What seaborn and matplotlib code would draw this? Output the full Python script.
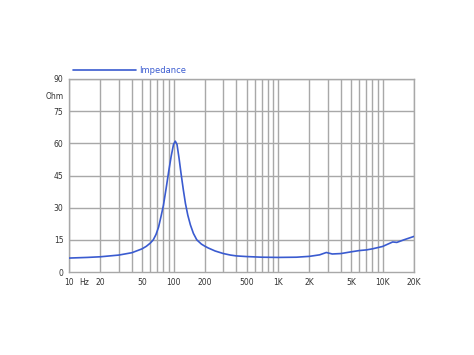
import matplotlib
matplotlib.use("Agg")
import matplotlib.pyplot as plt
import seaborn as sns
import numpy as np
import pandas as pd

freq = [10, 15, 20, 30, 40, 50, 55, 60, 64, 68, 72, 76, 80, 85, 90, 95, 100, 104,
        108, 113, 118, 124, 130, 137, 145, 155, 167, 185, 200, 215, 250, 300, 350,
        400, 500, 700, 1000, 1500, 2000, 2500, 2900, 3300, 4000, 5000, 6000, 7000,
        8000, 10000, 12500, 13700, 16000, 20000]
impedance = [6.5, 6.8, 7.1, 7.9, 9.0, 10.8, 12.0, 13.5, 15.0, 17.5, 21.0, 26.0, 31.0,
             39.0, 47.0, 54.0, 59.5, 61.0, 59.5, 53.0, 46.0, 38.5, 32.0, 26.5, 22.0,
             18.0, 15.0, 13.0, 12.0, 11.2, 9.8, 8.6, 7.9, 7.5, 7.2, 6.9, 6.8, 6.9,
             7.3, 8.0, 9.1, 8.4, 8.6, 9.4, 10.0, 10.3, 10.8, 11.9, 14.0, 13.8, 15.0,
             16.6]

xticks = [10, 14, 20, 50, 100, 200, 500, 1000, 2000, 5000, 10000, 20000]
xticklabels = ["10", "Hz", "20", "50", "100", "200", "500", "1K", "2K", "5K", "10K", "20K"]
yticks = [0, 15, 30, 45, 60, 75, 82.5, 90]
yticklabels = ["0", "15", "30", "45", "60", "75", "Ohm", "90"]

df = pd.DataFrame({"Frequency": freq, "Impedance": impedance})

sns.set_style("white")
plt.rcParams['font.family'] = ['DejaVu Sans']

fig = plt.figure(figsize=(4.74, 3.55), dpi=100)
ax = fig.add_axes([69/474, 1-272/355, (414-69)/474, (272-79)/355])

grid_color = "#a8a8a8"
sns.lineplot(data=df, x="Frequency", y="Impedance", ax=ax, color="#3a5bd0",
             linewidth=1.2, label="Impedance", zorder=3)
ax.set_xscale("log")
ax.set_xlim(10, 20000)
ax.set_ylim(0, 90)

# grid lines
minor = []
for dec in [10, 100, 1000, 10000]:
    for m in range(1, 10):
        v = dec * m
        if 10 <= v <= 20000:
            minor.append(v)
for v in minor:
    ax.axvline(v, color=grid_color, linewidth=1.0, zorder=1)
for v in [15, 30, 45, 60, 75, 90]:
    ax.axhline(v, color=grid_color, linewidth=1.0, zorder=1)

ax.set_xticks(xticks)
ax.set_xticklabels(xticklabels)
ax.xaxis.set_minor_locator(matplotlib.ticker.NullLocator())
ax.set_yticks(yticks)
ax.set_yticklabels(yticklabels)
ax.tick_params(axis="both", labelsize=5.5, colors="#333333", length=0, pad=4)
ax.set_xlabel("")
ax.set_ylabel("")
for s in ax.spines.values():
    s.set_color(grid_color)
    s.set_linewidth(1.0)

leg = ax.legend(loc="lower left", bbox_to_anchor=(4/345, 1.02), frameon=False,
                fontsize=6, handlelength=7.6, handletextpad=0.3, borderaxespad=0,
                borderpad=0)
for t in leg.get_texts():
    t.set_color("#3a5bd0")

fig.savefig("out.png", dpi=100)
